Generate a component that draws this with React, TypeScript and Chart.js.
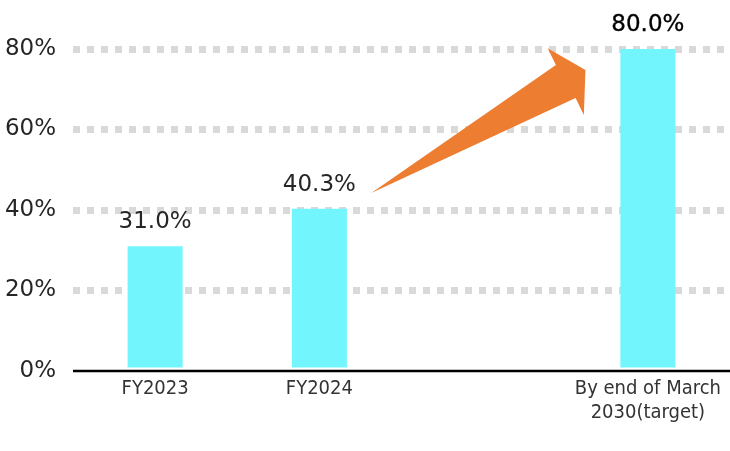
import React, { useEffect, useRef } from "react";
import { Chart, registerables } from "chart.js";

Chart.register(...registerables);

const categories: (string | string[])[] = ["FY2023", "FY2024", "", ["By end of March", "2030(target)"]];
const values: (number | null)[] = [31.0, 40.3, null, 80.0];
const valueLabels: string[] = ["31.0%", "40.3%", "", "80.0%"];
const yTicks: number[] = [0, 20, 40, 60, 80];
// arrow outline in data space: [category index, value]
const arrowPoints: [number, number][] = [
  [1.316, 44.2],
  [2.44, 76.0],
  [2.39, 80.2],
  [2.62, 74.8],
  [2.61, 63.6],
  [2.56, 67.8],
];

const BAR_COLOR = "#72F5FD";
const ARROW_COLOR = "#ED7D31";
const GRID_COLOR = "#D9D9D9";
const TEXT_COLOR = "#262626";

const overlayPlugin = {
  id: "overlay",
  afterDatasetsDraw(chart: any) {
    const ctx = chart.ctx as CanvasRenderingContext2D;
    const xs = chart.scales.x;
    const ys = chart.scales.y;
    const area = chart.chartArea;
    // zero axis line
    ctx.save();
    const y0 = ys.getPixelForValue(0);
    ctx.beginPath();
    ctx.moveTo(area.left, y0);
    ctx.lineTo(area.right, y0);
    ctx.lineWidth = 2.5;
    ctx.strokeStyle = "#000000";
    ctx.stroke();
    ctx.restore();
    // arrow
    ctx.save();
    ctx.beginPath();
    arrowPoints.forEach(([i, v], k) => {
      const px = xs.getPixelForValue(i);
      const py = ys.getPixelForValue(v);
      if (k === 0) ctx.moveTo(px, py);
      else ctx.lineTo(px, py);
    });
    ctx.closePath();
    ctx.fillStyle = ARROW_COLOR;
    ctx.fill();
    ctx.restore();
    // value labels
    const meta = chart.getDatasetMeta(0);
    ctx.save();
    ctx.font = "23px 'DejaVu Sans'";
    ctx.textAlign = "center";
    ctx.textBaseline = "middle";
    meta.data.forEach((bar: any, i: number) => {
      if (values[i] == null) return;
      const x = bar.x;
      const y = bar.y - 24;
      if (i === values.length - 1) {
        ctx.fillStyle = "#000000";
        ctx.fillText(valueLabels[i], x, y);
        ctx.lineWidth = 0.35;
        ctx.strokeStyle = "#000000";
        ctx.strokeText(valueLabels[i], x, y);
      } else {
        ctx.fillStyle = TEXT_COLOR;
        ctx.fillText(valueLabels[i], x, y);
      }
    });
    ctx.restore();
  },
};

export default function App() {
  const ref = useRef<HTMLCanvasElement | null>(null);
  useEffect(() => {
    document.body.style.margin = "0";
    if (!ref.current) return;
    const chart = new Chart(ref.current, {
      type: "bar",
      data: {
        labels: categories as any,
        datasets: [
          {
            data: values as any,
            backgroundColor: BAR_COLOR,
            borderWidth: 0,
            barPercentage: 0.335,
            categoryPercentage: 1,
          },
        ],
      },
      options: {
        animation: false,
        responsive: false,
        maintainAspectRatio: false,
        layout: { padding: { top: 49, right: 0, bottom: 0, left: 0 } },
        plugins: {
          legend: { display: false },
          tooltip: { enabled: false },
        },
        scales: {
          x: {
            grid: { display: false, drawTicks: false },
            border: { display: false },
            ticks: {
              color: "#333333",
              font: { family: "'DejaVu Sans Condensed', 'DejaVu Sans'", size: 20 },
              padding: 6,
              maxRotation: 0,
              autoSkip: false,
            },
            afterFit(scale: any) {
              scale.height = 80;
            },
          },
          y: {
            min: 0,
            max: 80,
            afterBuildTicks(scale: any) {
              scale.ticks = yTicks.map((v) => ({ value: v }));
            },
            border: { display: false, dash: [7, 7] },
            grid: {
              color: (c: any) => (c.tick && c.tick.value === 0 ? "rgba(0,0,0,0)" : GRID_COLOR),
              lineWidth: 7,
              drawTicks: false,
            },
            ticks: {
              color: TEXT_COLOR,
              font: { family: "'DejaVu Sans'", size: 23 },
              padding: 17,
              callback: (v: any) => v + "%",
            },
            afterFit(scale: any) {
              scale.width = 73;
            },
          },
        },
      },
      plugins: [overlayPlugin],
    });
    return () => chart.destroy();
  }, []);
  return (
    <div style={{ width: 730, height: 451 }}>
      <canvas ref={ref} width={730} height={451} style={{ display: "block" }} />
    </div>
  );
}
